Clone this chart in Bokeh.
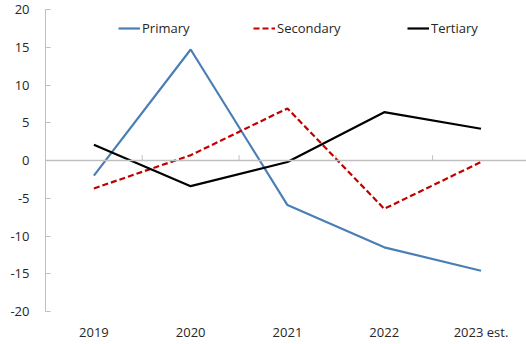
from bokeh.plotting import figure
from bokeh.models import (Range1d, FixedTicker, Span, Legend, LegendItem,
                          LinearAxis)
from bokeh.embed import file_html
from bokeh.resources import INLINE

# Annual growth by sector, %
categories = ["2019", "2020", "2021", "2022", "2023 est."]
primary = [-2.0, 14.7, -5.9, -11.5, -14.6]
secondary = [-3.7, 0.7, 6.9, -6.4, -0.2]
tertiary = [2.1, -3.4, -0.2, 6.4, 4.2]
y_ticks = [-20, -15, -10, -5, 0, 5, 10, 15, 20]

FONT = "Open Sans"
TEXT = "#262626"
GREY = "#bfbfbf"

xs = [i + 0.5 for i in range(len(categories))]

p = figure(width=526, height=344, output_backend="svg", toolbar_location=None,
           x_range=Range1d(0, 4.97), y_range=Range1d(-20, 20),
           min_border_left=45, min_border_right=0, min_border_top=9,
           min_border_bottom=33, x_axis_location=None)
p.outline_line_color = None
p.background_fill_color = "white"
p.border_fill_color = "white"
p.xgrid.visible = False
p.ygrid.ticker = FixedTicker(ticks=[-20, 20])
p.ygrid.grid_line_color = GREY
p.ygrid.grid_line_width = 1

# value axis
p.yaxis.ticker = FixedTicker(ticks=y_ticks)
p.yaxis.major_label_overrides = {v: str(v) for v in y_ticks}
p.yaxis.axis_line_color = GREY
p.yaxis.major_tick_line_color = GREY
p.yaxis.major_tick_in = 5
p.yaxis.major_tick_out = 0
p.yaxis.minor_tick_line_color = None
p.yaxis.major_label_standoff = 16
p.yaxis.major_label_text_font = FONT
p.yaxis.major_label_text_font_size = "13px"
p.yaxis.major_label_text_color = TEXT

# category labels along the bottom
xaxis = LinearAxis(ticker=FixedTicker(ticks=xs),
                   major_label_overrides={x: c for x, c in zip(xs, categories)})
xaxis.axis_line_color = None
xaxis.major_tick_line_color = None
xaxis.minor_tick_line_color = None
xaxis.major_tick_in = 0
xaxis.major_tick_out = 0
xaxis.major_label_standoff = 11
xaxis.major_label_text_font = FONT
xaxis.major_label_text_font_size = "13px"
xaxis.major_label_text_color = TEXT
p.add_layout(xaxis, "below")

# category axis line at zero, with dividers between categories
p.add_layout(Span(location=0, dimension="width", line_color=GREY, line_width=1.5))
bounds = [i for i in range(1, len(categories))]
p.segment(x0=bounds, x1=bounds, y0=[0] * len(bounds), y1=[0.7] * len(bounds),
          line_color=GREY, line_width=1)

r1 = p.line(xs, primary, line_color="#4a7fb5", line_width=2.2)
r2 = p.line(xs, secondary, line_color="#c00000", line_width=2.2,
            line_dash="6 3")
r3 = p.line(xs, tertiary, line_color="black", line_width=2.2)

for label, r, x0 in [("Primary", r1, 73), ("Secondary", r2, 208),
                     ("Tertiary", r3, 362)]:
    lg = Legend(items=[LegendItem(label=label, renderers=[r])],
                location=(x0, 274), orientation="horizontal",
                padding=0, margin=0, spacing=0,
                glyph_width=22, glyph_height=18, label_standoff=2,
                label_text_font=FONT, label_text_font_size="13px",
                label_text_color=TEXT, border_line_color=None,
                background_fill_alpha=0)
    p.add_layout(lg, "center")

open("out.html", "w").write(file_html(p, INLINE))
